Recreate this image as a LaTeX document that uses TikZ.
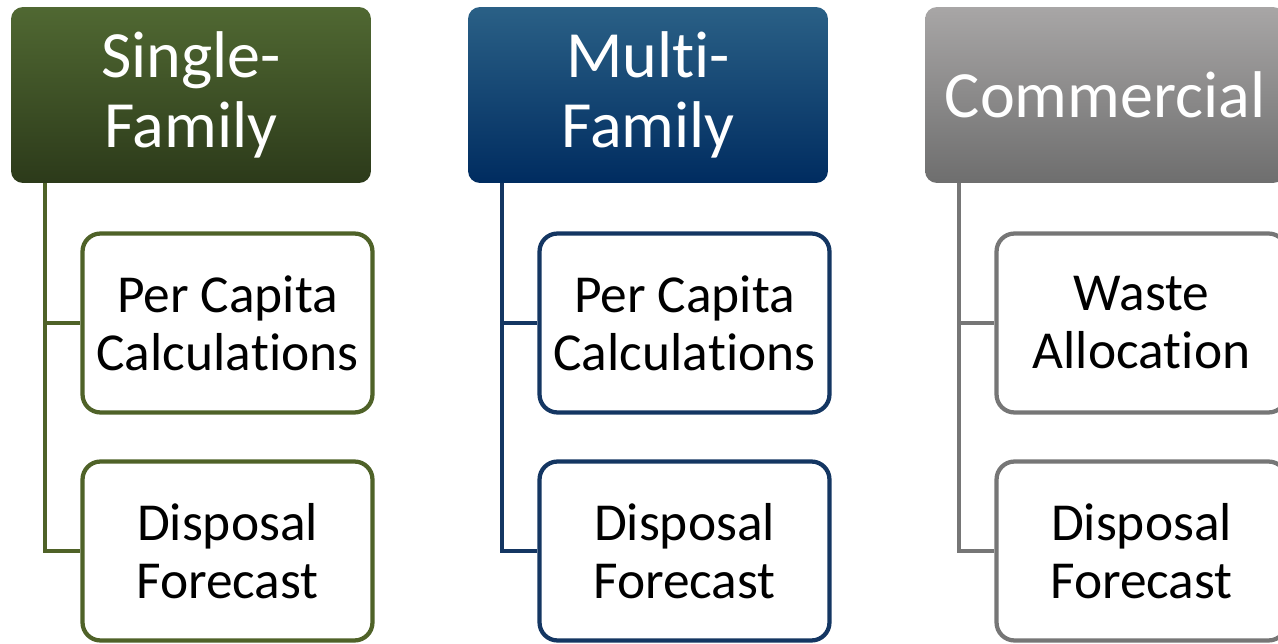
\documentclass[tikz,border=0pt]{standalone}
\usepackage{fontspec}
\setmainfont{Carlito}[Ligatures=NoCommon]
\usepackage{xcolor}
\usepackage{tikz}
\usetikzlibrary{positioning,calc}

\definecolor{sfTop}{RGB}{80,104,50}
\definecolor{sfBot}{RGB}{44,58,26}
\definecolor{sfLine}{RGB}{79,98,40}
\definecolor{mfTop}{RGB}{42,96,134}
\definecolor{mfBot}{RGB}{0,44,96}
\definecolor{mfLine}{RGB}{20,54,98}
\definecolor{coTop}{RGB}{168,166,166}
\definecolor{coBot}{RGB}{110,110,110}
\definecolor{coLine}{RGB}{118,118,118}

\begin{document}
\begin{tikzpicture}[x=0.02cm, y=-0.02cm,
    header/.style={rounded corners=0.24cm, minimum width=7.2cm, minimum height=3.52cm,
        text=white, align=center, inner sep=0pt,
        font=\fontsize{37.6}{39.8}\selectfont},
    task/.style={draw, rounded corners=0.36cm, line width=0.085cm, fill=white,
        minimum width=5.8cm, minimum height=3.58cm, align=center, inner sep=0pt,
        font=\fontsize{30.4}{33}\selectfont},
    conn/.style={line width=0.085cm}]

    \useasboundingbox (0,0) rectangle (1278,644);

    % Single-family
    \node [header, top color=sfTop, bottom color=sfBot] (sf) at (191,95) {Single-\\Family};
    \node [task, draw=sfLine] (sfcalc) at (227.5,323) {Per Capita\\Calcula\kern0pt tions};
    \node [task, draw=sfLine] (sffore) at (227.5,551) {Disposal\\Forecast};
    \draw [conn, sfLine] (sf.south west) ++(34,0) |- (sffore.west);
    \draw [conn, sfLine] (sf.south west) ++(34,0) |- (sfcalc.west);

    % Multi-family
    \node [header, top color=mfTop, bottom color=mfBot] (mf) at (648,95) {Multi-\\Family};
    \node [task, draw=mfLine] (mfcalc) at (684.5,323) {Per Capita\\Calcula\kern0pt tions};
    \node [task, draw=mfLine] (mffore) at (684.5,551) {Disposal\\Forecast};
    \draw [conn, mfLine] (mf.south west) ++(34,0) |- (mffore.west);
    \draw [conn, mfLine] (mf.south west) ++(34,0) |- (mfcalc.west);

    % Commercial
    \node [header, top color=coTop, bottom color=coBot] (co) at (1105,95) {Commercial};
    \node [task, draw=coLine] (coalloc) at (1141.5,323) {Waste\\Alloca\kern0pt tion};
    \node [task, draw=coLine] (cofore) at (1141.5,551) {Disposal\\Forecast};
    \draw [conn, coLine] (co.south west) ++(34,0) |- (cofore.west);
    \draw [conn, coLine] (co.south west) ++(34,0) |- (coalloc.west);
\end{tikzpicture}
\end{document}
